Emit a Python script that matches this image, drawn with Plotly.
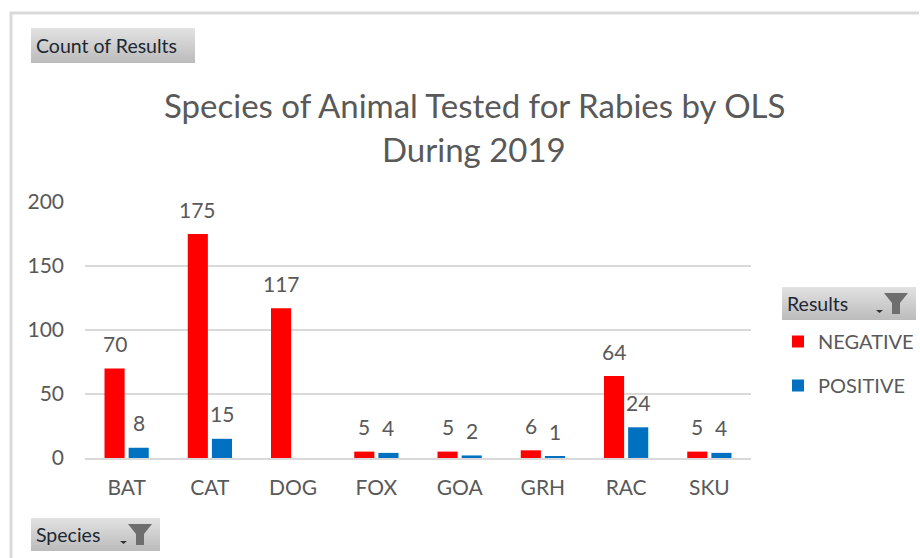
import plotly.graph_objects as go

species = ["BAT", "CAT", "DOG", "FOX", "GOA", "GRH", "RAC", "SKU"]
negative = [70, 175, 117, 5, 5, 6, 64, 5]
positive = [8, 15, None, 4, 2, 1, 24, 4]
title_lines = ["Species of Animal Tested for Rabies by OLS", "During 2019"]

W, H = 920, 558
L, R, T, B = 85, 751, 202, 458
FONT = "Lato"
GREY = "#595959"
DARK = "#1d2733"


def px(x):
    return (x - L) / (R - L)


def py(y):
    return (B - y) / (B - T)


shapes = []
annotations = []


def button(x0, y0, x1, y1, text, funnel=False):
    steps = y1 - y0
    for i in range(steps):
        f = i / max(steps - 1, 1)
        v = int(226 - f * (226 - 188))
        c = f"rgb({v},{v},{v})"
        shapes.append(dict(type="rect", xref="paper", yref="paper", layer="above",
                           x0=px(x0), x1=px(x1), y0=py(y0 + i), y1=py(y0 + i + 1),
                           line_width=0, fillcolor=c))
    annotations.append(dict(text=text, xref="paper", yref="paper", showarrow=False,
                            x=px(x0 + 3), y=py((y0 + y1) / 2), xanchor="left", yanchor="middle",
                            font=dict(family=FONT, size=19.5, color=DARK)))
    if funnel:
        fx = x1 - 32
        fy = y0 + 6
        pts = [(fx, fy), (fx + 24, fy), (fx + 16, fy + 10), (fx + 16, fy + 21), (fx + 8, fy + 21), (fx + 8, fy + 10)]
        path = "M" + " L".join(f"{px(a):.5f},{py(b):.5f}" for a, b in pts) + " Z"
        shapes.append(dict(type="path", xref="paper", yref="paper", layer="above",
                           path=path, fillcolor="#6e6e6e", line_width=0))
        ax = fx - 8
        ay = fy + 17
        pts = [(ax, ay), (ax + 7, ay), (ax + 3.5, ay + 3)]
        path = "M" + " L".join(f"{px(a):.5f},{py(b):.5f}" for a, b in pts) + " Z"
        shapes.append(dict(type="path", xref="paper", yref="paper", layer="above",
                           path=path, fillcolor="#333333", line_width=0))


# outer frame of the chart area
shapes.append(dict(type="path", xref="paper", yref="paper",
                   path=f"M{px(11)},{py(558)} L{px(11)},{py(13)} L{px(919)},{py(13)}",
                   line=dict(color="#d9d9d9", width=3)))

button(31, 28, 195, 63, "Count of Results")
button(782, 287, 916, 320, "Results", funnel=True)
button(31, 518, 160, 551, "Species", funnel=True)

for i, line in enumerate(title_lines):
    annotations.append(dict(text=line, xref="paper", yref="paper", showarrow=False,
                            x=px(474), y=py(105 + i * 44), xanchor="center", yanchor="middle",
                            font=dict(family=FONT, size=33, color=GREY)))

for values, shift in ((negative, -12), (positive, 12)):
    for s, v in zip(species, values):
        if v is None:
            continue
        annotations.append(dict(text=str(v), x=s, y=v, xref="x", yref="y", showarrow=False,
                                xshift=shift, yshift=25, xanchor="center", yanchor="middle",
                                font=dict(family=FONT, size=21, color=GREY)))

fig = go.Figure()
fig.add_bar(name="NEGATIVE", legendgroup="n", x=species, y=negative, marker=dict(color="#ff0000", line_width=0))
fig.add_bar(name="POSITIVE", legendgroup="p", x=species, y=positive, marker=dict(color="#0070c0", line_width=0))

fig.update_layout(
    width=W, height=H, autosize=False,
    margin=dict(l=L, r=W - R, t=T, b=H - B, pad=0),
    paper_bgcolor="white", plot_bgcolor="white",
    barmode="group", bargap=0.42, bargroupgap=0.167,
    font=dict(family=FONT, color=GREY),
    shapes=shapes, annotations=annotations,
    legend=dict(xref="container", yref="container",
                x=778 / W, y=1 - 322 / H, xanchor="left", yanchor="top", orientation="v",
                font=dict(family=FONT, size=20, color=GREY), tracegroupgap=15,
                bgcolor="rgba(0,0,0,0)", traceorder="grouped", itemclick=False, itemdoubleclick=False),
)
fig.update_xaxes(type="category", categoryorder="array", categoryarray=species,
                 showgrid=False, showline=True, linecolor="#d9d9d9", linewidth=2,
                 ticks="", ticklabelstandoff=10, tickfont=dict(family=FONT, size=21, color=GREY))
fig.update_yaxes(range=[0, 200], tickvals=[0, 50, 100, 150, 200], showgrid=True,
                 gridcolor="#d9d9d9", gridwidth=2, zeroline=False, showline=False,
                 ticks="", ticklabelstandoff=20, tickfont=dict(family=FONT, size=21, color=GREY))

fig.write_html("out.html", config={"displayModeBar": False},
               post_script="document.body.style.margin='0';")
